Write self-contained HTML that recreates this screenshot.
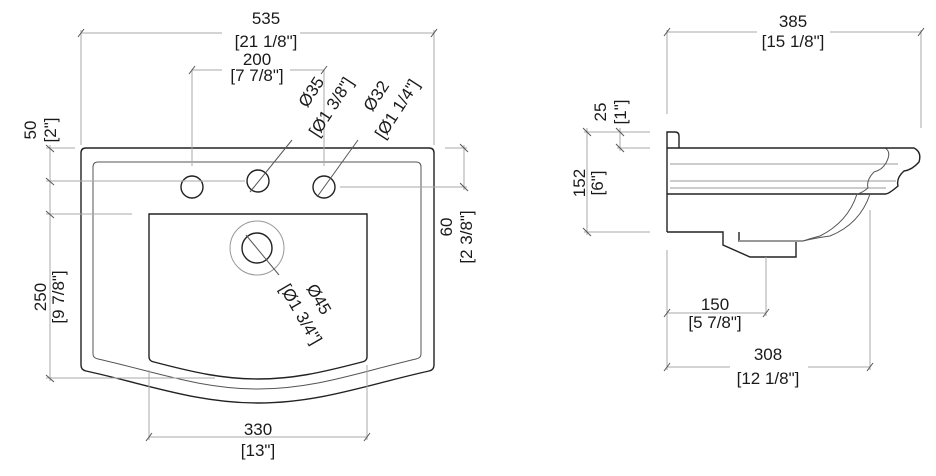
<!DOCTYPE html>
<html><head><style>
html,body{margin:0;padding:0;background:#fff;}
svg{display:block;}
text{font-family:"Liberation Sans",sans-serif;font-size:17px;fill:#1a1a1a;text-anchor:middle;}
.d{stroke:#aaa;stroke-width:1;fill:none;}
.t{stroke:#555;stroke-width:1;fill:none;}
.o{stroke:#222;stroke-width:1.4;fill:none;}
.g{stroke:#999;stroke-width:1;fill:none;}
</style></head><body>
<svg width="936" height="476" viewBox="0 0 936 476" xmlns="http://www.w3.org/2000/svg">
<path class="o" d="M86,148 H429 Q434,148 434,153 V365 Q434,370 429,371 C370,384 320,403 258,403 C196,403 146,384 86,371 Q81,370 81,365 V153 Q81,148 86,148 Z"/>
<path class="t" d="M98,162 H416 Q421,162 421,167 V354 Q421,358 416,359 C360,372 315,389 258,389 C201,389 156,372 98,359 Q93,358 93,354 V167 Q93,162 98,162 Z"/>
<path class="o" d="M149,214 H367 V357 Q367,361 362,362 C320,373 292,379 258,379 C224,379 196,373 154,362 Q149,361 149,357 Z"/>
<circle class="o" cx="192" cy="187" r="11"/>
<circle class="o" cx="258" cy="181" r="11"/>
<circle class="o" cx="324" cy="187" r="11"/>
<circle class="g" cx="257" cy="248" r="27"/>
<circle class="o" cx="257" cy="248" r="15"/>
<line class="t" x1="246" y1="235" x2="279" y2="275"/>
<line class="t" x1="250" y1="192" x2="292" y2="140"/>
<line class="t" x1="317" y1="197" x2="358" y2="140"/>
<line class="d" x1="81" y1="33" x2="222" y2="33"/><line class="d" x1="300" y1="33" x2="434" y2="33"/>
<line class="d" x1="81" y1="30" x2="81" y2="145"/><line class="d" x1="434" y1="30" x2="434" y2="145"/>
<line class="t" x1="78" y1="37" x2="84" y2="29"/><line class="t" x1="431" y1="37" x2="437" y2="29"/>
<text x="266" y="24">535</text><text x="266" y="47">[21 1/8"]</text>
<line class="d" x1="192" y1="70" x2="222" y2="70"/><line class="d" x1="290" y1="70" x2="324" y2="70"/>
<line class="d" x1="192" y1="70" x2="192" y2="166"/><line class="d" x1="324" y1="70" x2="324" y2="166"/>
<line class="t" x1="189" y1="74" x2="195" y2="66"/><line class="t" x1="321" y1="74" x2="327" y2="66"/>
<text x="257" y="65">200</text><text x="257" y="81">[7 7/8"]</text>
<text transform="translate(316,95) rotate(-57)">Ø35</text>
<text transform="translate(336,110) rotate(-57)">[Ø1 3/8"]</text>
<text transform="translate(381,99) rotate(-57)">Ø32</text>
<text transform="translate(402,112) rotate(-57)">[Ø1 1/4"]</text>
<text transform="translate(314,302) rotate(60)">Ø45</text>
<text transform="translate(296,317) rotate(60)">[Ø1 3/4"]</text>
<line class="d" x1="50" y1="145" x2="50" y2="381"/>
<line class="d" x1="46" y1="148" x2="75" y2="148"/>
<line class="d" x1="46" y1="181" x2="245" y2="181"/>
<line class="d" x1="46" y1="214" x2="132" y2="214"/>
<line class="d" x1="46" y1="378" x2="215" y2="378"/>
<line class="t" x1="46" y1="145" x2="54" y2="152"/><line class="t" x1="46" y1="178" x2="54" y2="185"/>
<line class="t" x1="46" y1="211" x2="54" y2="218"/><line class="t" x1="46" y1="375" x2="54" y2="382"/>
<text transform="translate(36,130) rotate(-90)">50</text>
<text transform="translate(56,130) rotate(-90)">[2"]</text>
<text transform="translate(46,297) rotate(-90)">250</text>
<text transform="translate(64,297) rotate(-90)">[9 7/8"]</text>
<line class="d" x1="464" y1="145" x2="464" y2="190"/>
<line class="d" x1="445" y1="148" x2="467" y2="148"/>
<line class="d" x1="340" y1="187" x2="467" y2="187"/>
<line class="t" x1="460" y1="144" x2="468" y2="152"/><line class="t" x1="460" y1="183" x2="468" y2="191"/>
<text transform="translate(452,227) rotate(-90)">60</text>
<text transform="translate(472,237) rotate(-90)">[2 3/8"]</text>
<line class="d" x1="149" y1="370" x2="149" y2="440"/><line class="d" x1="367" y1="365" x2="367" y2="440"/>
<line class="d" x1="149" y1="437" x2="367" y2="437"/>
<line class="t" x1="146" y1="441" x2="152" y2="433"/><line class="t" x1="364" y1="441" x2="370" y2="433"/>
<text x="258" y="435">330</text><text x="258" y="456">[13"]</text>

<path class="o" d="M667,232 V132 H675 Q679,132 679,136 V148"/>
<line class="o" x1="667" y1="148" x2="885" y2="148"/>
<line class="o" x1="667" y1="194" x2="886" y2="194"/>
<line class="g" x1="670" y1="164" x2="898" y2="164"/>
<line class="g" x1="670" y1="181" x2="896" y2="181"/>
<line class="g" x1="670" y1="188" x2="886" y2="188"/>
<path class="t" d="M885,148 Q892,152 886,163 Q882,170 874,172 Q866,180 868,188 Q862,193 857,194"/>
<path class="o" d="M885,148 H914 Q922,152 919,162 Q912,170 904,171 Q896,178 898,186 Q890,193 886,194"/>
<path class="t" d="M857,194 Q848,222 820,236 Q812,238 803,241"/>
<path class="t" d="M870,194 Q860,224 830,236 Q815,238 803,241"/>
<path class="o" d="M667,232 H723 V245 L750,257 H796 V241 H739 V232"/>
<line class="g" x1="739" y1="241" x2="803" y2="241" style="stroke-width:2"/>
<line class="d" x1="667" y1="32" x2="757" y2="32"/><line class="d" x1="830" y1="32" x2="921" y2="32"/>
<line class="d" x1="667" y1="30" x2="667" y2="114"/><line class="d" x1="921" y1="30" x2="921" y2="128"/>
<line class="t" x1="664" y1="36" x2="670" y2="28"/><line class="t" x1="918" y1="36" x2="924" y2="28"/>
<text x="793" y="27">385</text><text x="793" y="47">[15 1/8"]</text>
<line class="d" x1="620" y1="128" x2="620" y2="151"/>
<line class="d" x1="587" y1="128" x2="587" y2="235"/>
<line class="d" x1="584" y1="132" x2="650" y2="132"/>
<line class="d" x1="617" y1="148" x2="650" y2="148"/>
<line class="d" x1="584" y1="232" x2="650" y2="232"/>
<line class="t" x1="616" y1="128" x2="624" y2="136"/><line class="t" x1="616" y1="144" x2="624" y2="152"/>
<line class="t" x1="583" y1="128" x2="591" y2="136"/><line class="t" x1="583" y1="228" x2="591" y2="236"/>
<text transform="translate(606,112) rotate(-90)">25</text>
<text transform="translate(626,112) rotate(-90)">[1"]</text>
<text transform="translate(585,183) rotate(-90)">152</text>
<text transform="translate(603,183) rotate(-90)">[6"]</text>
<line class="d" x1="667" y1="250" x2="667" y2="370"/>
<line class="d" x1="766" y1="257" x2="766" y2="316"/>
<line class="d" x1="870" y1="210" x2="870" y2="370"/>
<line class="d" x1="667" y1="313" x2="766" y2="313"/>
<line class="d" x1="667" y1="367" x2="730" y2="367"/><line class="d" x1="808" y1="367" x2="870" y2="367"/>
<line class="t" x1="664" y1="317" x2="670" y2="309"/><line class="t" x1="763" y1="317" x2="769" y2="309"/>
<line class="t" x1="664" y1="371" x2="670" y2="363"/><line class="t" x1="867" y1="371" x2="873" y2="363"/>
<text x="715" y="310">150</text><text x="715" y="328">[5 7/8"]</text>
<text x="768" y="360">308</text><text x="768" y="384">[12 1/8"]</text>
</svg>
</body></html>
